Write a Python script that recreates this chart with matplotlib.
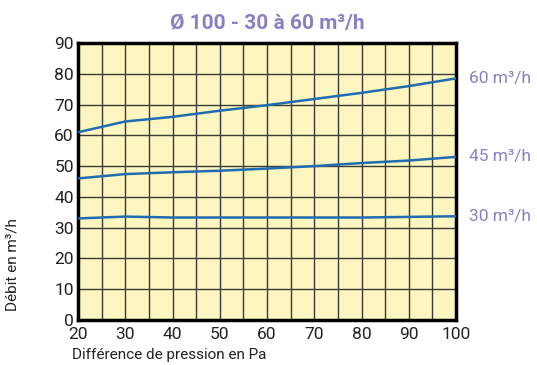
import numpy as np
import matplotlib.pyplot as plt

# données
pression = [20, 30, 40, 50, 60, 70, 80, 90, 100]
debit_60 = [61.0, 64.5, 66.0, 68.0, 69.8, 71.8, 73.8, 76.0, 78.5]
debit_45 = [46.0, 47.4, 48.0, 48.5, 49.2, 50.0, 51.0, 51.8, 53.0]
debit_30 = [33.0, 33.6, 33.3, 33.3, 33.3, 33.3, 33.3, 33.5, 33.7]
courbes = ['60 m³/h', '45 m³/h', '30 m³/h']

plt.rcParams['font.family'] = ['Roboto', 'DejaVu Sans']

violet = '#8b7fc3'
bleu = '#1f6db0'

fig = plt.figure(figsize=(5.37, 3.65), dpi=100)
ax = fig.add_axes([78 / 537, 45 / 365, 378 / 537, 277 / 365])
ax.set_facecolor('#fdf6c0')

for y, lab in zip([debit_60, debit_45, debit_30], courbes):
    ax.plot(pression, y, color=bleu, linewidth=1.8, zorder=3)
    ax.text(1.035, y[-1], lab, transform=ax.get_yaxis_transform(),
            color=violet, fontsize=12.5, va='center', ha='left')

ax.set_xlim(20, 100)
ax.set_ylim(0, 90)
ax.set_xticks(np.arange(20, 101, 10))
ax.set_xticks(np.arange(20, 101, 5), minor=True)
ax.set_yticks(np.arange(0, 91, 10))
ax.grid(True, which='major', color='#3a3a3a', linewidth=1.0)
ax.grid(True, which='minor', axis='x', color='#3a3a3a', linewidth=1.0)
ax.tick_params(which='both', length=0, labelsize=12.5, colors='#222222', pad=3)
ax.tick_params(axis='x', pad=5)

for s in ax.spines.values():
    s.set_linewidth(2.5)
    s.set_color('black')

ax.set_title('Ø 100 - 30 à 60 m³/h', color=violet, fontsize=15,
             fontweight='bold', pad=10)
ax.set_ylabel('Débit en m³/h', fontsize=11, color='#222222')
ax.yaxis.set_label_coords(-0.155, 0.2)
ax.set_xlabel('Différence de pression en Pa', fontsize=11, color='#222222',
              ha='left')
ax.xaxis.set_label_coords(-0.015, -0.1)
ax.xaxis.label.set_va('top')

plt.savefig('out.png', dpi=100)
